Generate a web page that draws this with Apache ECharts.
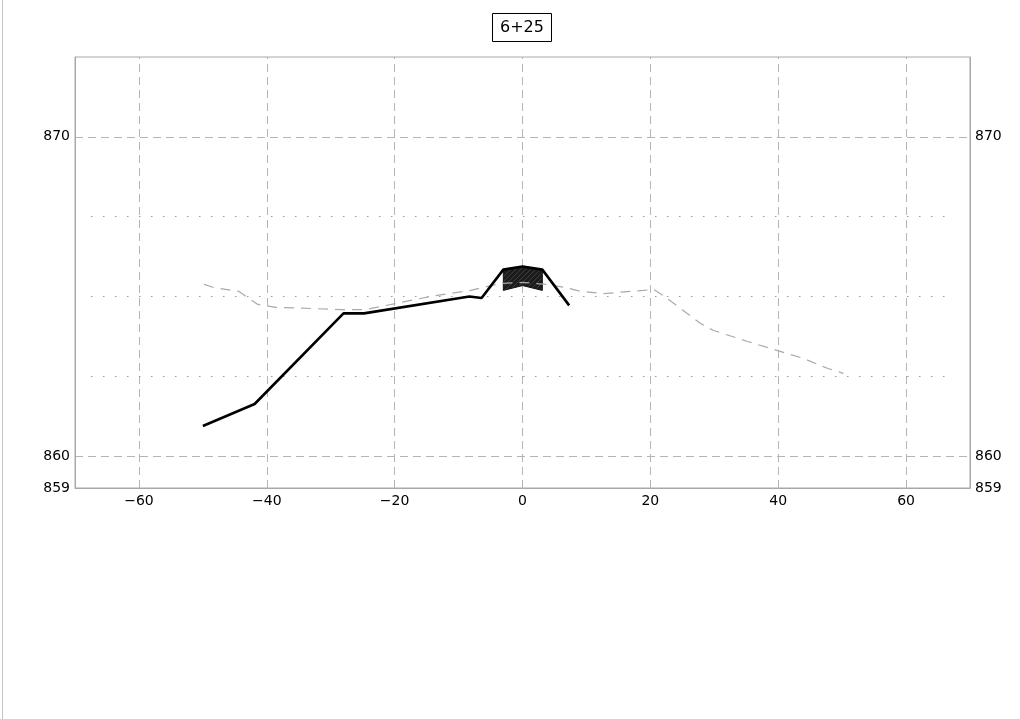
<!DOCTYPE html>
<html>
<head>
<meta charset="utf-8">
<script src="https://cdn.jsdelivr.net/npm/echarts@6/dist/echarts.min.js"></script>
<style>html,body{margin:0;padding:0;background:#fff}#c{width:1020px;height:719px}</style>
</head>
<body>
<div id="c"></div>
<script>
// ---- data ----
const titleText = '6+25';
const xTickLabels = [-60, -40, -20, 0, 20, 40, 60];
const yTickLabels = [859, 860, 870];
const yDashedGrid = [860, 870];
const yDottedGrid = [862.5, 865, 867.5];
const dottedSpan = [-67.5, 67.5];

const groundX = [-49.8, -48.3, -44.4, -41.4, -38.6, -28.4, -24.5, -14.4, -8.1, -3.4, 0, 3.6, 6.7, 9.1, 12.7, 18.9, 20.5, 22.0, 27.8, 29.8, 35.2, 40.3, 43.9, 47.7, 50.2];
const groundY = [865.38, 865.28, 865.16, 864.75, 864.66, 864.59, 864.59, 865.0, 865.19, 865.41, 865.44, 865.38, 865.28, 865.16, 865.09, 865.19, 865.22, 865.03, 864.16, 863.94, 863.59, 863.28, 863.06, 862.75, 862.59];

const designX = [-50, -41.9, -28, -24.8, -8.3, -6.4, -3.0, 0, 3.1, 7.3];
const designY = [860.94, 861.63, 864.47, 864.47, 865.0, 864.95, 865.84, 865.94, 865.84, 864.72];

const structX = [-3.0, 0, 3.1, 3.1, 0, -3.0];
const structY = [865.84, 865.94, 865.84, 865.19, 865.34, 865.19];

// ---- build ----
const zip = (a, b) => a.map((v, i) => [v, b[i]]);
const fmtNum = v => (v < 0 ? '\u2212' + Math.abs(v) : String(v));

// hatch pattern
const pc = document.createElement('canvas');
pc.width = 5; pc.height = 5;
const g = pc.getContext('2d');
g.fillStyle = '#1c1c1c'; g.fillRect(0, 0, 5, 5);
g.strokeStyle = '#3c3c3c'; g.lineWidth = 1;
g.beginPath(); g.moveTo(0, 5); g.lineTo(5, 0); g.stroke();

const gridLineStyle = { color: '#b4b4b4', width: 1, type: [8, 5] };
const markLineData = [];
yDashedGrid.forEach(v => markLineData.push({ yAxis: v, lineStyle: gridLineStyle }));
xTickLabels.forEach(v => markLineData.push({ xAxis: v, lineStyle: gridLineStyle }));
yDottedGrid.forEach(v => markLineData.push([
  { coord: [dottedSpan[0], v], lineStyle: { color: '#9a9a9a', width: 1.2, type: [1.5, 10.5] } },
  { coord: [dottedSpan[1], v] }
]));

const axisFont = { fontFamily: 'DejaVu Sans', fontSize: 14, color: '#000' };
const yFormatter = v => (yTickLabels.indexOf(v) >= 0 ? String(v) : '');

const chart = echarts.init(document.getElementById('c'), null, { renderer: 'canvas' });
chart.setOption({
  animation: false,
  backgroundColor: '#fff',
  title: {
    text: titleText, left: 492, top: 13,
    borderColor: '#000', borderWidth: 1, padding: [7, 8, 6, 8],
    textStyle: { fontFamily: 'DejaVu Sans', fontSize: 16, fontWeight: 'normal', color: '#000' }
  },
  graphic: [{
    type: 'line', silent: true,
    shape: { x1: 2.5, y1: 0, x2: 2.5, y2: 719 },
    style: { stroke: '#c4c4c4', lineWidth: 1 }
  }],
  grid: { left: 75, right: 50, top: 57, bottom: 231, show: true, borderColor: '#a8a8a8', borderWidth: 1, backgroundColor: 'transparent' },
  xAxis: {
    type: 'value', min: -70, max: 70, interval: 10,
    axisLine: { show: true, onZero: false, lineStyle: { color: '#a8a8a8' } },
    axisTick: { show: false },
    splitLine: { show: false },
    axisLabel: Object.assign({ margin: 6, showMinLabel: false, showMaxLabel: false,
      formatter: v => (xTickLabels.indexOf(v) >= 0 ? fmtNum(v) : '') }, axisFont)
  },
  yAxis: [{
    type: 'value', min: 859, max: 872.5, interval: 1, position: 'left',
    axisLine: { show: true, onZero: false, lineStyle: { color: '#a8a8a8' } },
    axisTick: { show: false }, splitLine: { show: false },
    axisLabel: Object.assign({ margin: 5, formatter: yFormatter }, axisFont)
  }, {
    type: 'value', min: 859, max: 872.5, interval: 1, position: 'right',
    axisLine: { show: true, onZero: false, lineStyle: { color: '#a8a8a8' } },
    axisTick: { show: false }, splitLine: { show: false },
    axisLabel: Object.assign({ margin: 5, formatter: yFormatter }, axisFont)
  }],
  series: [{
    type: 'custom', z: 1,
    data: [0],
    renderItem: (params, api) => {
      const pts = zip(structX, structY).map(p => api.coord(p));
      return { type: 'polygon', shape: { points: pts }, style: { fill: { image: pc, repeat: 'repeat' }, stroke: '#111', lineWidth: 1 } };
    },
    silent: true
  }, {
    type: 'line', z: 2, data: zip(groundX, groundY), symbol: 'none', silent: true,
    lineStyle: { color: '#aaaaaa', width: 1.2, type: [10, 7] },
    markLine: { silent: true, symbol: 'none', label: { show: false }, z: 0, data: markLineData, animation: false }
  }, {
    type: 'line', z: 3, data: zip(designX, designY), symbol: 'none', silent: true,
    lineStyle: { color: '#000', width: 2.6 }
  }]
});
</script>
</body>
</html>
